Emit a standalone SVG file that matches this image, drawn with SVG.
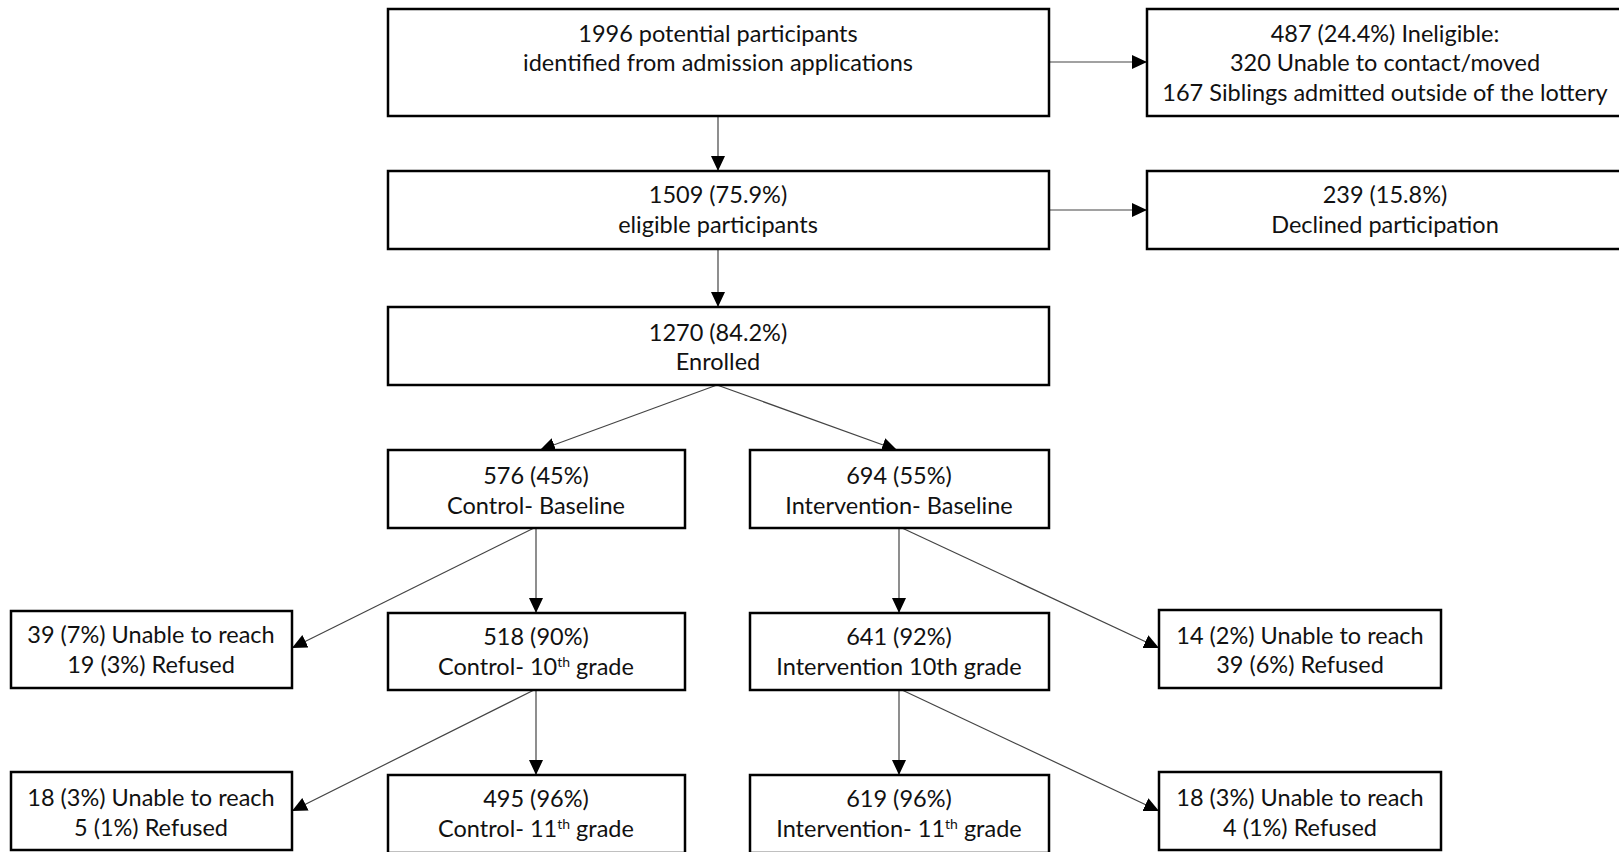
<svg xmlns="http://www.w3.org/2000/svg" width="1619" height="852" viewBox="0 0 1619 852">
<defs>
<marker id="ah" markerUnits="userSpaceOnUse" markerWidth="16" markerHeight="14" refX="15" refY="7" orient="auto">
<path d="M0,0 L15,7 L0,14 Z" fill="#000"/>
</marker>
<style>
.box{fill:#fff;stroke:#000;stroke-width:2.5}
.t{font-family:Lato,"Liberation Sans",sans-serif;font-size:23.5px;fill:#111;text-anchor:middle}
.sup{font-size:14px}
.c{fill:none;stroke:#444;stroke-width:1.2;marker-end:url(#ah)}
</style>
</defs>
<rect width="1619" height="852" fill="#fff"/>
<g id="connectors">
<line class="c" x1="718" y1="116" x2="718" y2="171"/>
<line class="c" x1="1049" y1="62" x2="1147" y2="62"/>
<line class="c" x1="718" y1="249" x2="718" y2="307"/>
<line class="c" x1="1049" y1="210" x2="1147" y2="210"/>
<line class="c" x1="717" y1="385" x2="540" y2="450"/>
<line class="c" x1="717" y1="385" x2="897" y2="450"/>
<line class="c" x1="536" y1="528" x2="536" y2="613"/>
<line class="c" x1="534" y1="528" x2="292" y2="648"/>
<line class="c" x1="899" y1="528" x2="899" y2="613"/>
<line class="c" x1="902" y1="528" x2="1159" y2="648"/>
<line class="c" x1="536" y1="690" x2="536" y2="775"/>
<line class="c" x1="534" y1="690" x2="292" y2="811"/>
<line class="c" x1="899" y1="690" x2="899" y2="775"/>
<line class="c" x1="902" y1="690" x2="1159" y2="811"/>
</g>
<g id="n1"><rect class="box" x="388" y="9" width="661" height="107"/>
<text class="t" x="718" y="41.5">1996 potential participants</text>
<text class="t" x="718" y="70.5">identified from admission applications</text></g>
<g id="n_inel"><rect class="box" x="1147" y="9" width="476" height="107"/>
<text class="t" x="1385" y="41.5">487 (24.4%) Ineligible:</text>
<text class="t" x="1385" y="70.5">320 Unable to contact/moved</text>
<text class="t" x="1385" y="100.5">167 Siblings admitted outside of the lottery</text></g>
<g id="n2"><rect class="box" x="388" y="171" width="661" height="78"/>
<text class="t" x="718" y="202.5">1509 (75.9%)</text>
<text class="t" x="718" y="232.5">eligible participants</text></g>
<g id="n_decl"><rect class="box" x="1147" y="171" width="476" height="78"/>
<text class="t" x="1385" y="202.5">239 (15.8%)</text>
<text class="t" x="1385" y="232.5">Declined participation</text></g>
<g id="n3"><rect class="box" x="388" y="307" width="661" height="78"/>
<text class="t" x="718" y="340.5">1270 (84.2%)</text>
<text class="t" x="718" y="369.5">Enrolled</text></g>
<g id="n_cb"><rect class="box" x="388" y="450" width="297" height="78"/>
<text class="t" x="536" y="483.5">576 (45%)</text>
<text class="t" x="536" y="513.5">Control- Baseline</text></g>
<g id="n_ib"><rect class="box" x="750" y="450" width="299" height="78"/>
<text class="t" x="899" y="483.5">694 (55%)</text>
<text class="t" x="899" y="513.5">Intervention- Baseline</text></g>
<g id="n_ld1"><rect class="box" x="11" y="611" width="281" height="77"/>
<text class="t" x="151" y="642.5">39 (7%) Unable to reach</text>
<text class="t" x="151" y="672.5">19 (3%) Refused</text></g>
<g id="n_c10"><rect class="box" x="388" y="613" width="297" height="77"/>
<text class="t" x="536" y="644.5">518 (90%)</text>
<text class="t" x="536" y="674.5">Control- 10<tspan class="sup" dy="-8">th</tspan><tspan dy="8"> grade</tspan></text></g>
<g id="n_i10"><rect class="box" x="750" y="613" width="299" height="77"/>
<text class="t" x="899" y="644.5">641 (92%)</text>
<text class="t" x="899" y="674.5">Intervention 10th grade</text></g>
<g id="n_rd1"><rect class="box" x="1159" y="610" width="282" height="78"/>
<text class="t" x="1300" y="643.5">14 (2%) Unable to reach</text>
<text class="t" x="1300" y="672.5">39 (6%) Refused</text></g>
<g id="n_ld2"><rect class="box" x="11" y="772" width="281" height="78"/>
<text class="t" x="151" y="805.5">18 (3%) Unable to reach</text>
<text class="t" x="151" y="835.5">5 (1%) Refused</text></g>
<g id="n_c11"><rect class="box" x="388" y="775" width="297" height="78"/>
<text class="t" x="536" y="806.5">495 (96%)</text>
<text class="t" x="536" y="836.5">Control- 11<tspan class="sup" dy="-8">th</tspan><tspan dy="8"> grade</tspan></text></g>
<g id="n_i11"><rect class="box" x="750" y="775" width="299" height="78"/>
<text class="t" x="899" y="806.5">619 (96%)</text>
<text class="t" x="899" y="836.5">Intervention- 11<tspan class="sup" dy="-8">th</tspan><tspan dy="8"> grade</tspan></text></g>
<g id="n_rd2"><rect class="box" x="1159" y="772" width="282" height="78"/>
<text class="t" x="1300" y="805.5">18 (3%) Unable to reach</text>
<text class="t" x="1300" y="835.5">4 (1%) Refused</text></g>
</svg>
